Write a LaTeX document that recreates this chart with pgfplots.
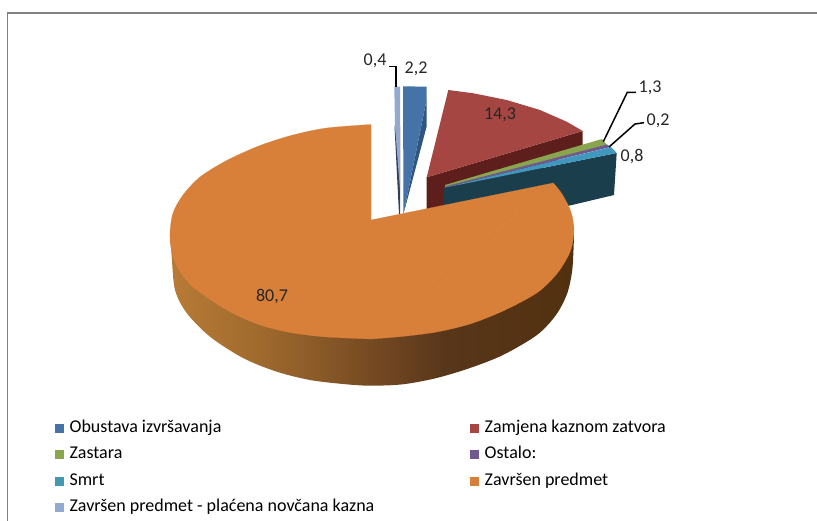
\documentclass[border=0pt]{standalone}
\usepackage{fontspec}
\setmainfont{Carlito}
\usepackage{pgfplots}
\pgfplotsset{compat=1.18}
\definecolor{cBlue}{HTML}{4572A7}
\definecolor{cBlueD}{HTML}{2F5583}
\definecolor{cRed}{HTML}{A64643}
\definecolor{cRedD}{HTML}{5E1F1C}
\definecolor{cGreen}{HTML}{89A54E}
\definecolor{cPurple}{HTML}{71588F}
\definecolor{cTeal}{HTML}{4198AF}
\definecolor{cTealTop}{HTML}{4198BF}
\definecolor{cTealD}{HTML}{1A3E4B}
\definecolor{cOrange}{HTML}{D8803A}
\definecolor{cLight}{HTML}{93A9CF}
\definecolor{cLightD}{HTML}{2F4058}
\definecolor{frameGray}{HTML}{808080}
\definecolor{labelInk}{HTML}{262626}
\definecolor{sA}{HTML}{B87B36}
\definecolor{sB}{HTML}{A06A2E}
\definecolor{sC}{HTML}{754A22}
\definecolor{sD}{HTML}{58361A}
\definecolor{sE}{HTML}{52310F}
\pgfdeclarehorizontalshading{sideshade}{100bp}{
 color(0bp)=(sA); color(25bp)=(sA); color(36bp)=(sB); color(50bp)=(sC);
 color(59bp)=(sD); color(75bp)=(sE); color(100bp)=(sE)}

\begin{document}
\begin{tikzpicture}
\begin{axis}[
 scale only axis, width=817pt, height=521pt,
 xmin=0, xmax=817, ymin=0, ymax=521, y dir=reverse,
 hide axis,
 legend image code/.code={\fill[#1] (-0.5pt,-4pt) rectangle (7.5pt,4pt);},
 legend cell align=left,
 legend style={
  at={(axis cs:52,416)}, anchor=north west, draw=none, fill=none,
  font=\fontsize{18}{20}\selectfont, legend columns=2,
  row sep=6.4pt, nodes={text height=12pt,text depth=4pt},
  /tikz/column 1/.style={column sep=4pt},
  /tikz/column 3/.style={column sep=4pt},
  /tikz/column 2/.style={column sep=94pt}
 },
 slice/.style={forget plot, draw=none, fill=#1},
 leader/.style={forget plot, draw=black, line width=1.5pt}
]
\addlegendimage{cBlue}\addlegendentry{Obustava izvršavanja}
\addlegendimage{cRed}\addlegendentry{Zamjena kaznom zatvora}
\addlegendimage{cGreen}\addlegendentry{Zastara}
\addlegendimage{cPurple}\addlegendentry{Ostalo:}
\addlegendimage{cTeal}\addlegendentry{Smrt}
\addlegendimage{cOrange}\addlegendentry{Završen predmet}
\addlegendimage{cLight}\addlegendentry{Završen predmet - plaćena novčana kazna}

% frame
\addplot[forget plot, draw=frameGray, line width=1.5pt] coordinates {(817,13) (7.5,13) (7.5,521)};

% Zamjena kaznom zatvora 14,3
\addplot[slice=cRedD] coordinates {(426.7,177.3) (582.7,131) (582.7,147) (500,190) (426.7,212)} -- cycle;
\addplot[slice=cRed] coordinates {(448.3,90) (473.3,93.3) (506.7,100) (540,110) (566.7,121.7) (582.7,131) (426.7,177.3)} -- cycle;

% Smrt 0,8 side
\addplot[slice=cTealD] coordinates {(443.3,188) (616.7,153) (614,195) (570,205.5) (500,215) (443.3,215)} -- cycle;
% Zastara 1,3
\addplot[slice=cGreen] coordinates {(445,185) (602,139) (607,145) (445,187)} -- cycle;
% Ostalo 0,2
\addplot[slice=cPurple] coordinates {(445,186.5) (607,144.5) (610.5,147) (445,187.5)} -- cycle;
% Smrt 0,8 top
\addplot[slice=cTealTop] coordinates {(443.3,188) (611,147) (616.7,153)} -- cycle;

% Obustava izvršavanja 2,2
\addplot[slice=cBlueD] coordinates {(426.5,100) (426.5,127) (403.5,214)} -- cycle;
\addplot[slice=cBlue] coordinates {(403,86.3) (426.5,86.7) (426.5,100) (403.5,214)} -- cycle;

% Završen predmet - plaćena novčana kazna 0,4
\addplot[slice=cLightD] coordinates {(394.5,126) (400,126) (400,214) (399,214)} -- cycle;
\addplot[slice=cLight] coordinates {(394.3,86.7) (400,86.7) (400,190) (395,127)} -- cycle;

% Završen predmet 80,7 side and top
\addplot[forget plot, draw=none, shading=sideshade, smooth] coordinates {(574,232) (573.5,250) (572,272) (567,294) (556,315) (537,335) (503,355) (470,368) (436.7,378) (403,384.3) (370,385.7) (343,384) (310,380) (276.7,371.7) (243,358) (210,336.7) (186.7,313) (175,290) (171.7,256.7) (170,233)} -- cycle;
\addplot[slice=cOrange, draw=cOrange, line width=0.2pt, smooth] coordinates {(371,124.5) (326.7,128) (293,135) (260,145.5) (226.7,160.5) (200,177) (183,195) (173,213) (170,233) (171.5,250) (178,268) (193,287) (226.7,310) (260,325) (293,333) (326.7,337) (371,339)} -- cycle;
\addplot[slice=cOrange, draw=cOrange, line width=0.2pt, smooth] coordinates {(371,339) (403,336.4) (436.7,332) (470,324) (503,311) (536.7,293) (556.7,274) (570,252) (574,231) (571,212) (562,194) (553.3,183)} -- cycle;
\addplot[slice=cOrange, draw=cOrange, line width=0.2pt] coordinates {(371,339) (553.3,183) (371,220)} -- cycle;

% leader lines
\addplot[leader] coordinates {(396,87) (396,66.5) (389,66.5)};
\addplot[leader] coordinates {(603.3,141.7) (627.3,92.3) (636,92.3)};
\addplot[leader] coordinates {(609,147) (635,124) (644,122.7)};

\begin{scope}[every node/.style={font=\fontsize{18}{20}\selectfont, text=labelInk}]
\node at (axis cs:375,61) {0,4};
\node at (axis cs:416,69) {2,2};
\node at (axis cs:500,115) {14,3};
\node at (axis cs:650,88) {1,3};
\node at (axis cs:658,121) {0,2};
\node at (axis cs:632,157) {0,8};
\node at (axis cs:272,297) {80,7};
\end{scope}
\end{axis}
\path (0,0) rectangle (817pt,521pt);
\end{tikzpicture}
\end{document}
